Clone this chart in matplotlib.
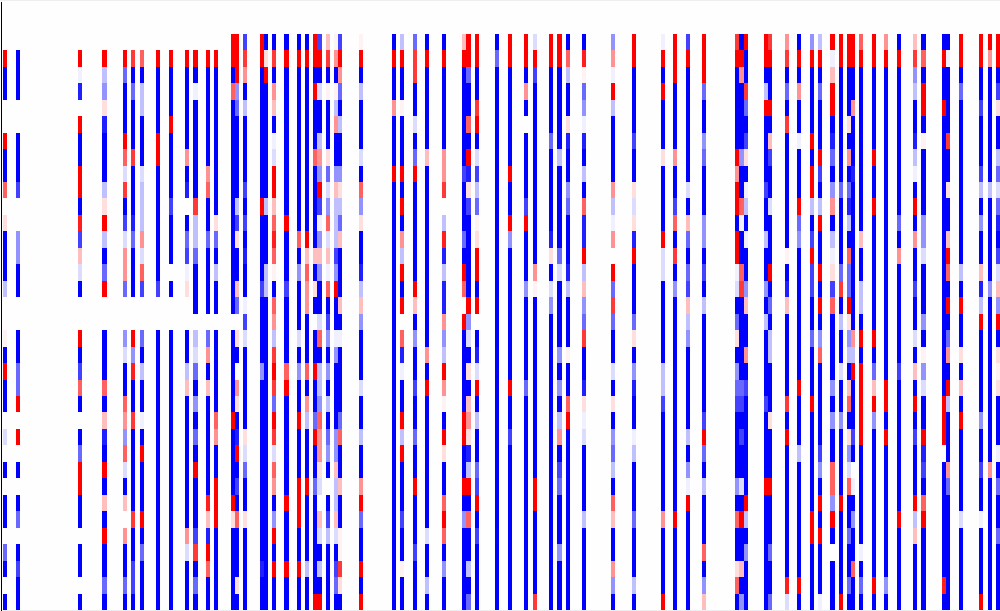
import numpy as np
import matplotlib
matplotlib.use("Agg")
import matplotlib.pyplot as plt
from matplotlib.lines import Line2D

n_rows = 37
n_cols = 242
first_row = 2

# Encoded cell values, one string per non-empty column, top row to bottom row
levels = {'.': 0.0, 'a': -0.06, 'b': -0.14, 'c': -0.25, 'd': -0.42, 'e': -0.58,
          'f': -0.74, 'g': -0.87, 'B': -1.0, 'q': 0.05, 'r': 0.13, 's': 0.25,
          't': 0.42, 'u': 0.62, 'v': 0.78, 'w': 0.88, 'R': 1.0}

columns_a = [1, 4, 19, 25, 30, 32, 34, 38, 41, 45, 47, 50, 52, 56, 57, 59, 63, 64, 66, 69, 72, 74, 76, 77, 79, 81, 82]
cells_a = [
    ".RBB..RBBu. rBBBc..qBRB B.b.B.BB.eB.B",
    ".BBB..BBBf. .ddBB..BBee R.R.B.Be.BfBB",
    ".Rag.RBBRRB wfsbB..RBfu B.BeRRBB.BB.B",
    ".RcdrgBBBcr RcBeR..BBBu BsgBRBsBRBBeB",
    ".ReBBBRubvB fbtte..dbBB utdubBs.tBBeB",
    ".vBeBBBvBBB geBBB..RdwB BvBBBBBvBBffB",
    ".uBccBBBbcc ctbuf..eBcB BaBRBBBRBeBBB",
    ".RBBBBRRBBB BBBBf..BBBB BBBBBBBBBBBBB",
    ".RBBBRBBBBf BBB.B..BBBB BBBBBBBBBBBBB",
    ".RBBBBBtBg. Befar..BBcs BBBBBBBBtbBBB",
    ".RBaBBBBBBv cceBBB.cbeB dBeBRBBBfvBeB",
    ".RBBBBBBtuB BeBBBB.etBs BBBBBBwsgRuBB",
    ".RBBBBBBBBB reBcBB.BBBB ButBBRRRBBBBB",
    "RRBuBBBBBBB BBBBBB.BBBB BRBBBBRrBBBBB",
    "RRRdeBBBBBc frBBse.rB.t rBgRBfBuBBBrB",
    "fvtBcBBBBfB fBgBBafbBBB BBrbeBBrBBBBB",
    "RRBBBBBBBBR BBBBfBBBBdB BBBBBBBBBBgBB",
    "BrRBBBBBBBc BBBccBBBBBB BBBBBBBBBBBBB",
    "BvBtsBabRRs uwuqButcvRv eRvbutBdRBRBB",
    "BRBBBBBBBBB RBBBfBBBBuR BBBBBBRBBBRBB",
    "BRBBBBBBBBB BuBdBBBbBdB BRBBBRRRBBRBB",
    "BRBBBBBBBBB BRsuttBBBuB tcBBBRBBBBcBB",
    "RRBRBBBuBBB BBsBrB.BBRB BeRBBeBBBBBBR",
    "fRBbBBctdRf adsdBBbuBcc duttrb.sbBcBR",
    "svBqBBBrebd ubsauBfdBdB cBedB.BfcBBBB",
    "qtBqctBBdsc ccfdRBBadBB BBddsccsbBfeB",
    "fRteBcBBdrc esBBBsBaBBB BeuBBsBBqqvrB",
]

columns_b = [87, 95, 97, 100, 103, 107, 112, 113, 115, 120, 123, 127, 129, 133, 135, 137, 141, 148, 153, 160, 163]
cells_b = [
    "qRBcBBBbBud rBBgcsdBBBb BBcBBtReBBRBR",
    "BRBBtBBBRBB BBBBBBBBBBB BBBBBBBBBBBBB",
    "cRBBqBBBRBR BtcRBR.ugaB BRcRBBBfBBqBB",
    "evvBBbBeRBB BBBBRsBdBBf BBeBBRBBBfBBB",
    "BRBBBBBsBBB BBBBBBBBtBR BBBBBBBBbBBcB",
    "BRBBBBBttv. cwgcggtdcRt qBRrBBuRuBdBB",
    "sRBBBBBBfBB BeBRu.RBBBB BRRBBRBdBBBBB",
    "RReBBuBRgrf BBBBBRdbBrB strgcRBuBBcBe",
    "RRBBvRBbfce qrRRBR.BgbR BcBBefRBfBBBB",
    "BeBBBBBBBBB BBBBBBBBBBB BBBBBBBBBBBBB",
    "RRBBBBBBRBB RdBBBBBBBBR BBfBBBBBBBBBB",
    "RRBtB.BBBBf RBBBdBBBBBe BBBBBBBBBBBBB",
    "bRfBBBBBBBB BBBtqBBBBBB BBBBBRRBBBBBv",
    "RRBBBBeBBBB BgrBbdBBBBB BBBBBBBBBBBBB",
    "RRBBBBBcBBB BBebBBBBdBd BctBfeBBBdBBB",
    "BucBBrgBBde BBBgcBBBqBB uRBBBBBBBBBBB",
    "BwqedagBcBu ggRcsdevBBg rabBBBBcBBBBB",
    "dtaRcBBBBtc at.ReveBBbB rBdecBusBBtdB",
    "RRBBBBfBBrb rgRBBBerBdg BBacBBBeBBBcB",
    "aRBRBBBrBBB BRbbBBBBBcc fBBBBBBtBBBBR",
    "RRRBBBBtBBf uBvBdBBBBBB BBBBBBBRBBBBB",
]

columns_c = [166, 170, 178, 179, 180, 185, 186, 190, 193, 196, 198, 201, 203, 205, 206, 208, 211, 214, 217, 221, 223, 228, 229, 232, 237, 239, 241]
cells_c = [
    "fRBBBBBBBbB seBefscdBBB BBcBdaRBBBBBB",
    "RRReBBdeBBB ddBfBcBBBBB BfReBcBBBuBds",
    "vRBBBBBRtRR BRRabBerBde fBBBBdBuBBruB",
    "BRtBBBBdBBu aBBuvBBBBBe fBfBBbBRBBsBd",
    "RBBveBfrBac BaBBdsBBtBf BBBBBBRcBdBBB",
    "RRBcRBBBBfB BcBBdBcBBBB fBBBBRBBBBBBB",
    "vRBBRBsfBBb BBBRBeBccBB BrBBBRBBBeBBe",
    "tvBeBvBBBBB BBqBgsBBBBB vBRBBBBBBBBwb",
    "BRBtBBaBBBR edBBBBBBBBR BBBcBBBBBBBRB",
    "dRBBBBRBRRc BfRffBBeBBB RBBBBBBRRBBBB",
    "cRBeBBBRfBc RBBRBRBduBB BBBfdBRBRBBBa",
    "RasRRBgeBdt BcarfuBBBBd BdBBuudRB.BBB",
    "RRBBBBBBBeB BBBevBcBBbB BdBBBBRBBBBBR",
    "RRBBBrBtBeg cBueeRrdcBs uBrdbuBBeBBeB",
    "RRBBtBBBgBB BBBBBBBtcRB BBfB.aBdBBuBB",
    "uRBBBBBBBBB BsBBccBRBRR RRRBBBBBBaBeB",
    "RRBBBBBRBBR BBBBBBBRBes RdBBBBBBBBBRB",
    "tRBBBBBBBBB BBBBBBBBBBR RBRBBBBBBBBdB",
    "BRBBBBBBBBB eBtBBBBBBfB BBBBBBBRBBBBB",
    "svdcBBgcaBR BtBBfBBbBsB RBfBBBRcsBBBB",
    "BuBRRBqBBBB ddbBBBdBqdb BBRgfBuRBBBBB",
    "BRBBRBBBBBB BBBBBBBBBBB RRR.BBBBBBBwB",
    "BaBBBBvBBrB BsRuBRBetBR cBBBteBBBBBBB",
    "RRBeBBBBBBB BBBcBRBBrBs BRBBBBBbBBBBB",
    "RRBBfBBBfcB dBBsgcRBBBB BdBBfBBaBBBBR",
    "RtBBBBBBBcB BBBBdBBBBBB BBBBtBBBBBBBB",
    "RRBfrBBcebe gBfbsdRBrqr BBBaBeBBeBBBB",
]

matrix = np.zeros((n_rows, n_cols))
for col, text in zip(columns_a + columns_b + columns_c, cells_a + cells_b + cells_c):
    text = text.replace(" ", "")
    if len(text) != n_rows - first_row:
        print("bad length", col, len(text))
    for i, ch in enumerate(text[:n_rows - first_row]):
        matrix[first_row + i, col] = levels[ch]

fig = plt.figure(figsize=(10, 6.11), dpi=100, facecolor="#eeeeee")
ax = fig.add_axes([-0.0007, 1 / 611, 1.0007, 609 / 611], facecolor="white")
ax.imshow(matrix, cmap="bwr", vmin=-1, vmax=1, aspect="auto",
          interpolation="nearest", extent=(0, n_cols, n_rows, 0))
ax.axis("off")
fig.add_artist(Line2D([0.0005, 0.0005], [0, 609.5 / 611], color="black", lw=0.72))
fig.savefig("out.png", dpi=100, facecolor=fig.get_facecolor())
